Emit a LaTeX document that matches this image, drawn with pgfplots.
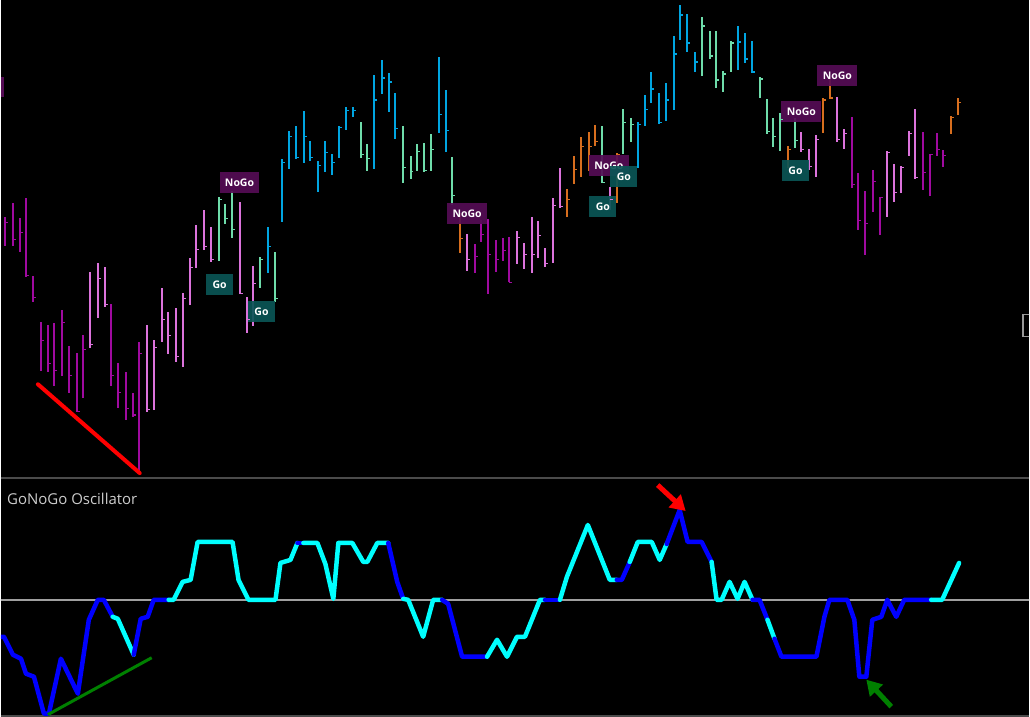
\documentclass[border=0pt]{standalone}
\usepackage{pgfplots}
\pgfplotsset{compat=1.18}
\usepackage{pgfplotstable}
\usetikzlibrary{arrows.meta}
\usepackage{fontspec}
\setmainfont{Open Sans}
\definecolor{cD}{RGB}{160,10,160}
\definecolor{cL}{RGB}{220,115,220}
\definecolor{cA}{RGB}{110,220,170}
\definecolor{cB}{RGB}{0,165,225}
\definecolor{cO}{RGB}{215,110,30}
\definecolor{ngbox}{RGB}{85,12,85}
\definecolor{gobox}{RGB}{10,85,85}
\definecolor{oscC}{RGB}{0,255,255}
\definecolor{oscB}{RGB}{0,0,255}
\definecolor{sep}{RGB}{75,75,75}
\pgfdeclareplotmark{rtick}{\pgfpathmoveto{\pgfqpoint{0pt}{0pt}}\pgfpathlineto{\pgfqpoint{\pgfplotmarksize}{0pt}}\pgfusepathqstroke}
\pgfplotsset{ohlc/.style={only marks, mark=rtick, mark size=3bp, line width=1.4bp, color=#1,
  error bars/.cd, y dir=both, y explicit, error mark=none, error bar style={line width=2bp, color=#1}}}
\pgfplotstableread{
x t b c
4 217 246 223
11.7 203 246 240
18.7 218 252 233
24.7 198 278 276
32.3 277 303 298
39.7 323 372 341
46.7 326 373 364
53.3 324 387 371
60.7 311 377 323
68.3 347 394 376
76 354 413 412
82 336 399 350
110.3 305 387 376
117.7 364 409 393
125.3 373 421 409
132.7 394 418 416
138.7 343 473 354
474.7 244 274 257
480.7 220 242 235
487.7 219 295 255
495.7 240 273 260
503.3 238 262 251
509.3 237 283 283
852.7 117 188 185
859 173 230 221
866 191 255 224
873.7 170 212 182
881 197 235 198
923.3 132 190 173
930.7 154 196 155
938.3 133 156 150
944.3 150 167 156
}\barsD
\pgfplotstableread{
x t b c
89.3 273 349 345
96.7 264 319 279
104.3 268 308 305
146 326 413 410
153.7 341 411 348
161 289 343 320
167.3 313 355 336
175 309 363 357
182 294 368 299
189.7 259 306 268
195.7 225 269 250
203.3 210 250 247
210.7 227 263 260
239.3 202 295 294
246.7 298 334 320
252.7 267 327 284
467.3 234 272 260
516.7 231 265 238
524.3 243 270 255
531.7 217 274 255
537.7 221 259 236
545 248 268 264
552.7 198 264 206
560.3 168 208 207
609.7 187 210 200
801.7 132 152 150
809.3 149 170 167
816.7 135 177 140
837.7 97 142 140
845 129 149 134
887.7 151 217 153
894.3 164 202 193
902 166 193 168
910 131 156 134
916 109 179 178
}\barsL
\pgfplotstableread{
x t b c
218 197 262 200
224.3 204 224 219
231.7 191 238 230
260 257 289 260
275 252 303 299
360.7 122 158 155
366.7 144 171 159
402.7 126 183 168
410.3 156 179 172
417.3 144 171 152
423.7 143 172 171
431.3 134 171 150
452.3 157 205 196
602.3 126 183 183
623.3 109 154 123
631 118 142 125
702.7 17 76 26
710 31 59 56
716.3 31 88 80
723.7 71 92 74
731 41 72 43
760 77 98 79
767.3 99 134 132
773.3 118 147 137
780.7 113 151 120
795.7 118 148 141
}\barsA
\pgfplotstableread{
x t b c
267.7 227 274 247
281.3 159 222 163
289 131 169 137
296 126 159 158
303.7 111 163 137
310 141 161 158
317.3 161 192 166
324.7 141 172 153
332 154 175 163
338.3 126 158 128
346 107 130 111
353 107 117 111
374 75 169 100
381.7 60 94 78
389 73 112 82
395 93 139 129
438.7 57 133 115
446 90 152 131
638 122 168 125
645.7 95 126 110
651.7 72 103 89
659.3 93 124 123
666.7 83 121 100
674.3 36 110 54
680 5 40 15
687.7 14 52 43
695.3 52 72 62
738.7 26 70 42
745 33 63 59
752.3 41 73 72
}\barsB
\pgfplotstableread{
x t b c
459.7 213 253 239
566.7 189 217 200
573.7 156 184 170
581 137 177 147
588.7 132 171 147
595 125 146 142
617 153 203 155
788.3 146 168 150
824 98 133 100
830.7 77 99 98
952 116 134 118
959.3 98 115 103
}\barsO
\tikzset{
 lab/.style={text=white, font=\fontsize{10.5bp}{12bp}\selectfont\bfseries, minimum height=21bp, inner sep=0pt},
 ng/.style={lab, fill=ngbox, fill opacity=0.92, text opacity=1, minimum width=40bp},
 go/.style={lab, fill=gobox, fill opacity=0.92, text opacity=1, minimum width=27bp}}
\begin{document}
\begin{tikzpicture}
\fill[black] (0,0) rectangle (1030bp,718bp);
\begin{axis}[at={(0,240bp)}, anchor=south west, scale only axis, width=1030bp, height=478bp,
  xmin=0, xmax=1030, ymin=0, ymax=478, y dir=reverse, hide axis, clip=true]
\addplot[ohlc=cD] table[x=x,y=c,y error plus expr=\thisrow{b}-\thisrow{c},y error minus expr=\thisrow{c}-\thisrow{t}]{\barsD};
\addplot[ohlc=cL] table[x=x,y=c,y error plus expr=\thisrow{b}-\thisrow{c},y error minus expr=\thisrow{c}-\thisrow{t}]{\barsL};
\addplot[ohlc=cA] table[x=x,y=c,y error plus expr=\thisrow{b}-\thisrow{c},y error minus expr=\thisrow{c}-\thisrow{t}]{\barsA};
\addplot[ohlc=cB] table[x=x,y=c,y error plus expr=\thisrow{b}-\thisrow{c},y error minus expr=\thisrow{c}-\thisrow{t}]{\barsB};
\addplot[ohlc=cO] table[x=x,y=c,y error plus expr=\thisrow{b}-\thisrow{c},y error minus expr=\thisrow{c}-\thisrow{t}]{\barsO};
\addplot[red, line width=4bp, line cap=round] coordinates {(37,385) (139,474)};
\fill[ngbox] (axis cs:0,77) rectangle (axis cs:3,97);
\node[ng] at (axis cs:239,183) {NoGo};
\node[ng] at (axis cs:467,214) {NoGo};
\node[ng] at (axis cs:609,166) {NoGo};
\node[ng] at (axis cs:838,76) {NoGo};
\node[ng] at (axis cs:802,112) {NoGo};
\node[go] at (axis cs:624,177) {Go};
\node[go] at (axis cs:603,207) {Go};
\node[go] at (axis cs:796,171) {Go};
\node[go] at (axis cs:219,285) {Go};
\node[go] at (axis cs:261,312) {Go};
\draw[gray!80, line width=1.5bp] (axis cs:1024,315) rectangle (axis cs:1036,337);
\end{axis}
\draw[sep, line width=2bp] (0,239bp) -- (1030bp,239bp);
\draw[sep, line width=1.5bp] (0,0.75bp) -- (1030bp,0.75bp);
\begin{axis}[at={(0,0)}, anchor=south west, scale only axis, width=1030bp, height=238bp,
  xmin=0, xmax=1030, ymin=480, ymax=718, y dir=reverse, hide axis, clip=true]
\addplot[gray!75, line width=2bp] coordinates {(0,601) (1030,601)};
\pgfplotsset{every axis plot/.append style={line width=4.5bp, line join=round, line cap=round}}
\addplot[oscB] coordinates {(0,638)(3,638)(12,656)(20,660)(25,675)(33,678)(43,715)(48,715)(60,660)(77,695)(88,621)(97,601)(103,601)(112,618)};
\addplot[oscC] coordinates {(112,618)(117,620)(133,656)};
\addplot[oscB] coordinates {(133,656)(140,620)(147,618)(153,601)(168,601)};
\addplot[oscC] coordinates {(168,601)(173,601)(182,583)(190,581)(197,543)(232,543)(238,581)(248,601)(275,601)(280,564)(290,561)(297,544)};
\addplot[oscB] coordinates {(297,544)(303,544)};
\addplot[oscC] coordinates {(303,544)(317,544)(325,565)(333,600)(338,544)(352,544)(363,563)(367,563)(377,544)(388,544)};
\addplot[oscB] coordinates {(388,544)(397,583)(403,600)};
\addplot[oscC] coordinates {(403,600)(408,601)(423,638)(433,601)(442,601)};
\addplot[oscB] coordinates {(442,601)(448,605)(462,658)(487,658)};
\addplot[oscC] coordinates {(487,658)(497,641)(507,658)(517,638)(525,638)(540,601)(545,601)};
\addplot[oscB] coordinates {(545,601)(560,601)};
\addplot[oscC] coordinates {(560,601)(567,578)(588,526)(610,581)(617,581)};
\addplot[oscB] coordinates {(617,581)(622,581)(630,563)};
\addplot[oscC] coordinates {(630,563)(638,543)(652,543)(660,561)(667,545)};
\addplot[oscB] coordinates {(667,545)(680,511)(688,543)(702,543)(712,563)};
\addplot[oscC] coordinates {(712,563)(717,601)(722,601)(730,583)(738,600)(745,583)(753,601)};
\addplot[oscB] coordinates {(753,601)(760,601)(768,621)};
\addplot[oscC] coordinates {(768,621)(775,640)};
\addplot[oscB] coordinates {(775,640)(782,658)(817,658)(825,618)(830,601)(848,601)(855,621)(860,678)(867,678)(873,621)(882,618)(888,601)(897,618)(905,601)(932,601)};
\addplot[oscC] coordinates {(932,601)(943,601)(960,564)};
\addplot[green!50!black, line width=3bp, line cap=butt] coordinates {(47,716) (151,659)};
\addplot[red, line width=5bp, line cap=butt, -{Triangle[length=15bp,width=17bp]}] coordinates {(658,486) (686,512)};
\addplot[green!50!black, line width=5bp, line cap=butt, -{Triangle[length=15bp,width=17bp]}] coordinates {(892,708) (867,681)};
\node[anchor=base west, inner sep=0pt, text={rgb,255:red,205;green,205;blue,205}, font=\fontsize{15bp}{18bp}\selectfont] at (axis cs:6,505) {GoNoGo Oscillator};
\end{axis}
\end{tikzpicture}
\end{document}
